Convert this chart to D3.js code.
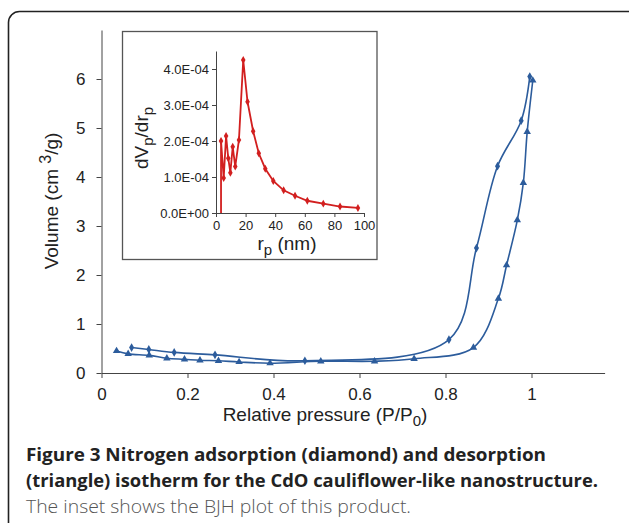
<!DOCTYPE html>
<html>
<head>
<meta charset="utf-8">
<script src="https://cdn.jsdelivr.net/npm/d3@7"></script>
<style>
  body { margin: 0; background: #fff; }
  svg { display: block; font-family: "Liberation Sans", Arial, sans-serif; }
  .axis path, .axis line { stroke: #444; }
  .axis text { fill: #222; }
  .caption { font-family: "Open Sans", sans-serif; }
</style>
</head>
<body>
<svg id="chart" width="629" height="523"></svg>
<script>
// main isotherm, upper branch (diamonds)
var upperP = [0.070, 0.110, 0.169, 0.264, 0.473, 0.808, 0.872, 0.921, 0.976, 0.996];
var upperV = [0.52, 0.48, 0.42, 0.37, 0.25, 0.68, 2.55, 4.22, 5.15, 6.05];
// lower branch (triangles)
var lowerP = [0.035, 0.062, 0.111, 0.152, 0.193, 0.229, 0.272, 0.320, 0.392, 0.510, 0.635, 0.727, 0.865, 0.923, 0.942, 0.967, 0.981, 0.990, 1.003];
var lowerV = [0.45, 0.39, 0.36, 0.30, 0.28, 0.26, 0.25, 0.225, 0.20, 0.24, 0.24, 0.29, 0.52, 1.52, 2.20, 3.12, 3.88, 4.92, 5.97];
var xTicks = [0, 0.2, 0.4, 0.6, 0.8, 1];
var yTicks = [0, 1, 2, 3, 4, 5, 6];

// inset BJH plot
var poreR = [3.4, 3.4, 5.2, 6.8, 8.3, 9.7, 11.3, 13.0, 15.5, 18.4, 21.3, 25.1, 28.9, 33.3, 38.7, 45.7, 53.4, 61.7, 72.5, 83.8, 95.9];
var dVdr = [0, 2.0e-4, 0.97e-4, 2.14e-4, 1.52e-4, 1.12e-4, 1.84e-4, 1.29e-4, 2.03e-4, 4.25e-4, 3.09e-4, 2.27e-4, 1.66e-4, 1.23e-4, 0.89e-4, 0.63e-4, 0.48e-4, 0.34e-4, 0.26e-4, 0.18e-4, 0.14e-4];
var insetXTicks = [0, 20, 40, 60, 80, 100];
var insetYTicks = [0, 1e-4, 2e-4, 3e-4, 4e-4];

var captionLines = [
  "Nitrogen adsorption (diamond) and desorption",
  "(triangle) isotherm for the CdO cauliflower-like nanostructure.",
  "The inset shows the BJH plot of this product."
];

var BLUE = "#2c5c9c";
var RED = "#d21f1f";

var svg = d3.select("#chart");

// frame
svg.append("rect")
  .attr("x", 8.5).attr("y", 11.5)
  .attr("width", 700).attr("height", 600)
  .attr("rx", 11)
  .attr("fill", "none")
  .attr("stroke", "#222")
  .attr("stroke-width", 1.6);

var x = d3.scaleLinear().domain([0, 1.17]).range([101.5, 101.5 + 1.17 * 430]);
var y = d3.scaleLinear().domain([0, 7]).range([373, 30]);

var xAxis = svg.append("g")
  .attr("class", "axis")
  .attr("transform", "translate(0,373)")
  .call(d3.axisBottom(x).tickValues(xTicks).tickSize(5).tickPadding(10).tickSizeOuter(0)
    .tickFormat(function(d) { return (d == 0 || d == 1) ? d : d.toFixed(1); }));
xAxis.selectAll("text").attr("font-size", 17);

var yAxis = svg.append("g")
  .attr("class", "axis")
  .attr("transform", "translate(101.5,0)")
  .call(d3.axisLeft(y).tickValues(yTicks).tickSize(5).tickPadding(11).tickSizeOuter(0)
    .tickFormat(d3.format("d")));
yAxis.selectAll("text").attr("font-size", 17);
svg.selectAll(".axis").attr("font-family", null);

// axis titles
var xt = svg.append("text")
  .attr("x", 325).attr("y", 421)
  .attr("text-anchor", "middle")
  .attr("font-size", 19).attr("fill", "#222");
xt.append("tspan").text("Relative pressure (P/P");
xt.append("tspan").attr("dy", 5).attr("font-size", 15).text("0");
xt.append("tspan").attr("dy", -5).text(")");

var yt = svg.append("text")
  .attr("transform", "translate(58,201) rotate(-90)")
  .attr("text-anchor", "middle")
  .attr("font-size", 19).attr("fill", "#222");
yt.append("tspan").text("Volume (cm ");
yt.append("tspan").attr("dy", -7).attr("font-size", 16).text("3");
yt.append("tspan").attr("dy", 7).text("/g)");

var line = function(xs, ys) {
  return d3.line()
    .x(function(d) { return xs(d[0]); })
    .y(function(d) { return ys(d[1]); })
    .curve(d3.curveCatmullRom.alpha(0.5));
};

var upper = d3.zip(upperP, upperV);
var lower = d3.zip(lowerP, lowerV);

[upper, lower].forEach(function(series) {
  svg.append("path")
    .attr("d", line(x, y)(series))
    .attr("fill", "none")
    .attr("stroke", BLUE)
    .attr("stroke-width", 1.6);
});

svg.append("g").selectAll("path")
  .data(upper)
  .enter()
  .append("path")
  .attr("transform", function(d) { return "translate(" + x(d[0]) + "," + y(d[1]) + ")"; })
  .attr("d", d3.symbol().type(d3.symbolDiamond).size(22))
  .attr("fill", BLUE);

svg.append("g").selectAll("path")
  .data(lower)
  .enter()
  .append("path")
  .attr("transform", function(d) { return "translate(" + x(d[0]) + "," + y(d[1]) + ")"; })
  .attr("d", d3.symbol().type(d3.symbolTriangle).size(24))
  .attr("fill", BLUE);

// inset
svg.append("rect")
  .attr("x", 122.5).attr("y", 31.5)
  .attr("width", 254.5).attr("height", 228)
  .attr("fill", "#fff")
  .attr("stroke", "#555")
  .attr("stroke-width", 1.3);

var ix = d3.scaleLinear().domain([0, 100]).range([216, 364]);
var iy = d3.scaleLinear().domain([0, 4.5e-4]).range([213, 51]);

var ixAxis = svg.append("g")
  .attr("class", "axis")
  .attr("transform", "translate(0,213)")
  .call(d3.axisBottom(ix).tickValues(insetXTicks).tickSize(4).tickPadding(4).tickSizeOuter(0));
ixAxis.selectAll("text").attr("font-size", 13);

var iyAxis = svg.append("g")
  .attr("class", "axis")
  .attr("transform", "translate(216,0)")
  .call(d3.axisLeft(iy).tickValues(insetYTicks).tickSize(4).tickPadding(3).tickSizeOuter(0)
    .tickFormat(function(d) { return d3.format(".1e")(d).replace("e", "E").replace(/E([+-])(\d)$/, "E$10$2"); }));
iyAxis.selectAll("text").attr("font-size", 13);
svg.selectAll(".axis").attr("font-family", null);

var ixt = svg.append("text")
  .attr("x", 287).attr("y", 250)
  .attr("text-anchor", "middle")
  .attr("font-size", 19).attr("fill", "#222");
ixt.append("tspan").text("r");
ixt.append("tspan").attr("dy", 5).attr("font-size", 15).text("p");
ixt.append("tspan").attr("dy", -5).text(" (nm)");

var iyt = svg.append("text")
  .attr("transform", "translate(148,138) rotate(-90)")
  .attr("text-anchor", "middle")
  .attr("font-size", 19).attr("fill", "#222");
iyt.append("tspan").text("dV");
iyt.append("tspan").attr("dy", 5).attr("font-size", 15).text("p");
iyt.append("tspan").attr("dy", -5).text("/dr");
iyt.append("tspan").attr("dy", 5).attr("font-size", 15).text("p");

var bjh = d3.zip(poreR, dVdr);
svg.append("path")
  .attr("d", d3.line()
    .x(function(d) { return ix(d[0]); })
    .y(function(d) { return iy(d[1]); })(bjh))
  .attr("fill", "none")
  .attr("stroke", RED)
  .attr("stroke-width", 1.8);

svg.append("g").selectAll("path")
  .data(bjh.slice(1))
  .enter()
  .append("path")
  .attr("transform", function(d) { return "translate(" + ix(d[0]) + "," + iy(d[1]) + ")"; })
  .attr("d", d3.symbol().type(d3.symbolDiamond).size(18))
  .attr("fill", RED);

// caption
var c1 = svg.append("text")
  .attr("class", "caption")
  .attr("x", 26).attr("y", 461)
  .attr("font-size", 18).attr("font-weight", 700).attr("fill", "#222")
  .attr("textLength", 520).attr("lengthAdjust", "spacingAndGlyphs");
c1.append("tspan").text("Figure 3 ");
c1.append("tspan").text(captionLines[0]);

svg.append("text")
  .attr("class", "caption")
  .attr("x", 26).attr("y", 487)
  .attr("font-size", 18).attr("font-weight", 700).attr("fill", "#222")
  .attr("textLength", 572).attr("lengthAdjust", "spacingAndGlyphs")
  .text(captionLines[1]);

svg.append("text")
  .attr("class", "caption")
  .attr("x", 26).attr("y", 513)
  .attr("font-size", 18).attr("font-weight", 300).attr("fill", "#555")
  .attr("textLength", 385).attr("lengthAdjust", "spacingAndGlyphs")
  .text(captionLines[2]);
</script>
</body>
</html>
